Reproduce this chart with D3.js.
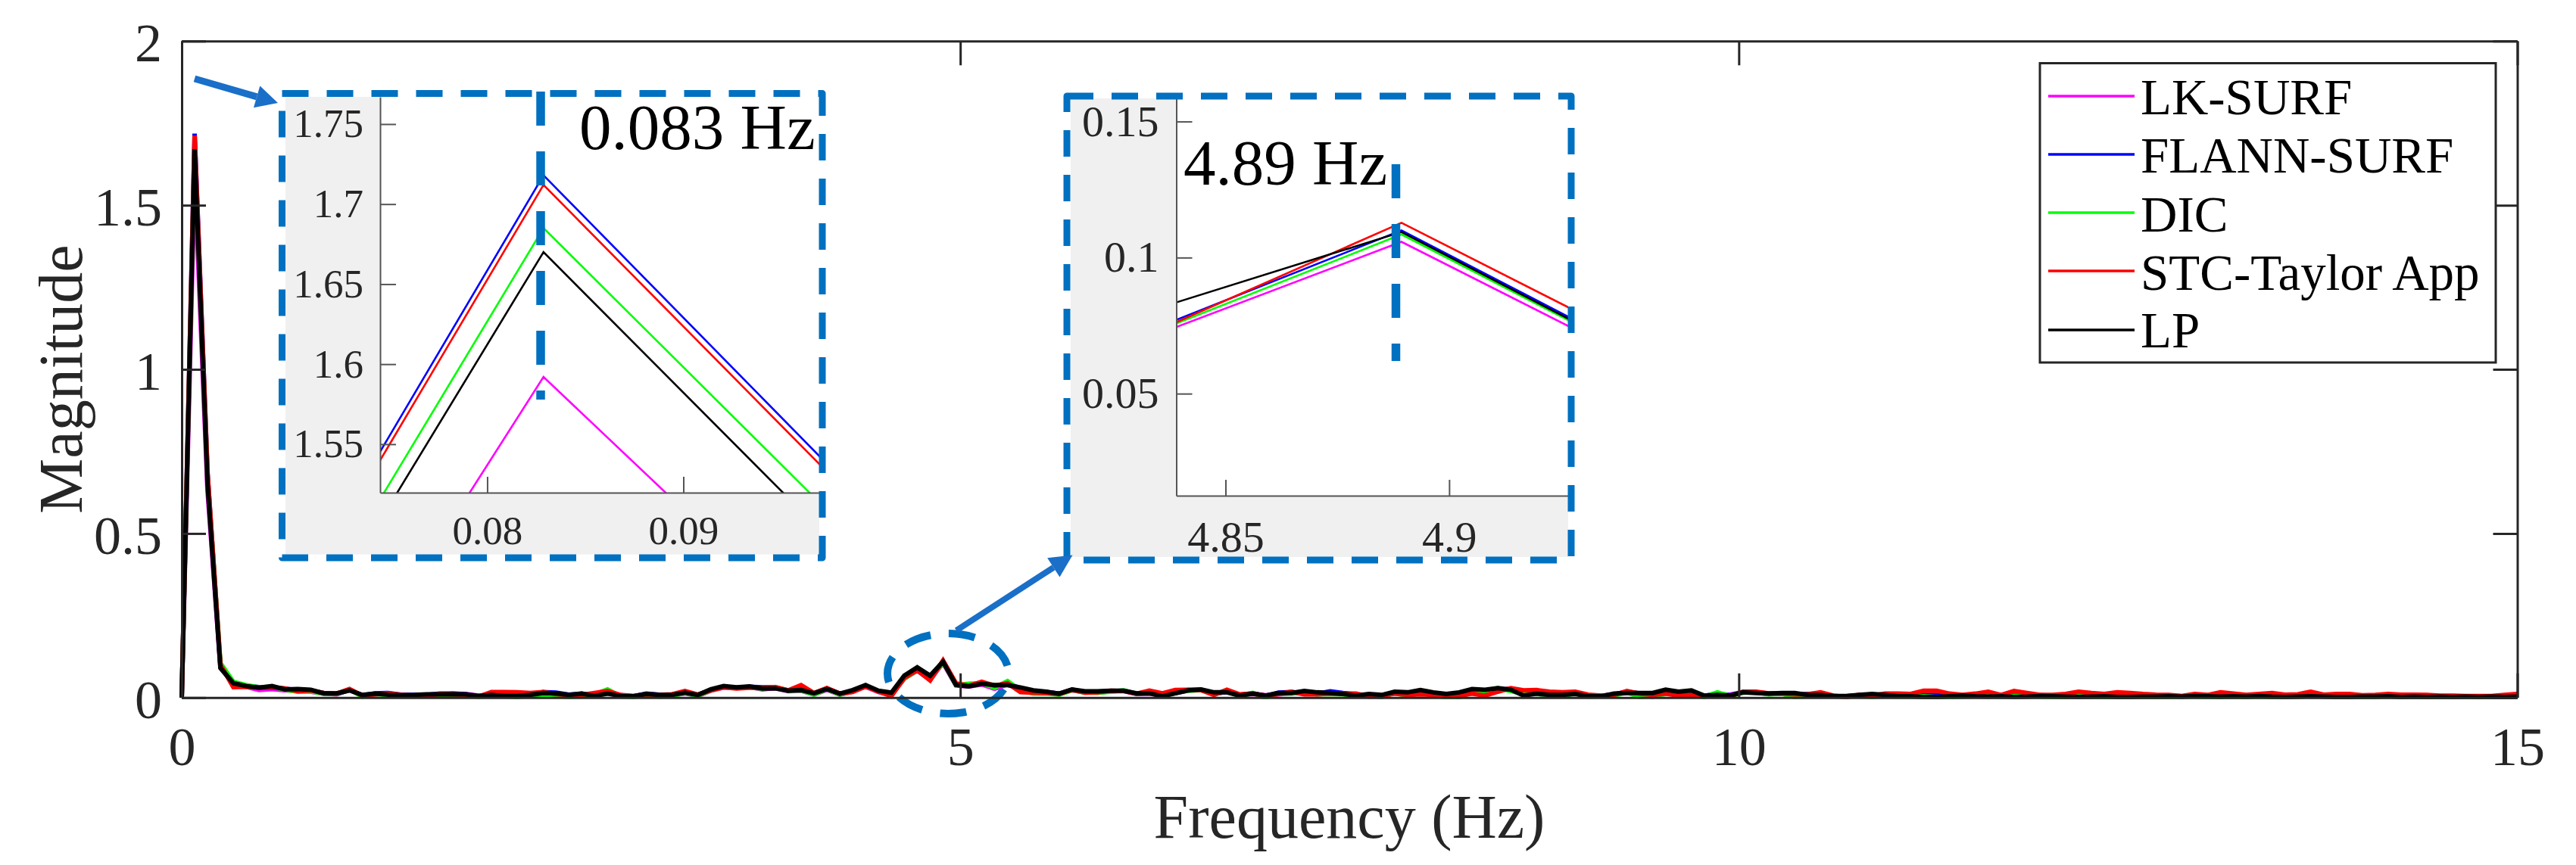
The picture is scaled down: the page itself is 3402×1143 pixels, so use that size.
<!DOCTYPE html>
<html><head><meta charset="utf-8">
<script src="https://cdnjs.cloudflare.com/ajax/libs/d3/7.8.5/d3.min.js"></script>
<style>html,body{margin:0;padding:0;background:#fff;overflow:hidden}svg{display:block}text{font-family:"Liberation Serif",serif}</style>
</head><body>
<script>
const seriesNames = ["LK-SURF","FLANN-SURF","DIC","STC-Taylor App","LP"];
const seriesColors = ["#ff00ff","#0000ff","#00ff00","#ff0000","#000000"];
const frequencyStep = 0.08287;
const xTicks = [0,5,10,15];
const yTicks = [0,0.5,1,1.5,2];
const inset1XTicks = [0.08,0.09];
const inset1YTicks = [1.55,1.6,1.65,1.7,1.75];
const inset2XTicks = [4.85,4.9];
const inset2YTicks = [0.05,0.1,0.15];

const lkSurf = [
0,1.592,.630,.092,.042,.033,.023,.026,.022,.020,
.018,.012,.010,.024,.006,.011,.010,.008,.007,.009,
.009,.012,.011,.006,.009,.006,.004,.007,.016,.012,
.006,.009,.007,.014,.006,.003,.009,.009,.007,.013,
.005,.021,.031,.029,.032,.025,.029,.020,.021,.009,
.024,.009,.018,.033,.017,.008,.058,.082,.0542,.1058,
.037,.034,.040,.027,.040,.024,.017,.016,.012,.022,
.016,.015,.019,.020,.011,.012,.007,.014,.022,.023,
.013,.017,.009,.011,.007,.010,.014,.013,.014,.015,
.013,.009,.008,.005,.014,.012,.019,.013,.009,.008,
.020,.019,.025,.026,.009,.014,.011,.009,.014,.005,
.006,.009,.017,.011,.002,.019,.013,.016,.006,.010,
.009,.017,.016,.011,.012,.004,.009,.010,.004,.003,
.006,.009,.007,.006,.006,.004,.005,.005,.007,.005,
.005,.006,.004,.004,.007,.006,.004,.004,.005,.006,
.004,.005,.005,.005,.006,.004,.006,.005,.004,.005,
.005,.006,.004,.004,.005,.006,.004,.004,.004,.004,
.005,.005,.004,.004,.004,.004,.003,.004,.004,.004,
.004,.005];
const flannSurf = [
0,1.718,.684,.096,.046,.036,.032,.030,.027,.022,
.021,.014,.011,.023,.007,.013,.014,.009,.008,.008,
.012,.012,.010,.004,.012,.009,.003,.009,.017,.015,
.009,.012,.005,.020,.007,.004,.012,.009,.009,.017,
.008,.023,.032,.030,.033,.031,.031,.021,.030,.012,
.028,.012,.020,.036,.019,.012,.060,.084,.0558,.1100,
.0395,.035,.045,.033,.044,.028,.018,.017,.012,.024,
.017,.018,.020,.021,.012,.014,.009,.014,.023,.024,
.011,.018,.008,.013,.005,.015,.017,.012,.012,.019,
.014,.010,.004,.003,.014,.012,.015,.011,.010,.002,
.017,.014,.022,.027,.013,.016,.012,.011,.014,.006,
.005,.010,.018,.013,.006,.018,.010,.013,.005,.012,
.007,.016,.016,.012,.013,.008,.011,.012,.005,.004,
.007,.009,.009,.007,.006,.008,.008,.007,.007,.010,
.005,.008,.006,.006,.007,.006,.004,.005,.007,.007,
.004,.005,.006,.005,.005,.003,.006,.005,.005,.004,
.006,.007,.005,.004,.004,.006,.005,.004,.003,.005,
.005,.006,.004,.005,.003,.004,.003,.004,.004,.003,
.004,.005];
const dic = [
0,1.685,.675,.105,.048,.038,.031,.033,.024,.018,
.019,.012,.011,.025,.003,.011,.008,.006,.005,.004,
.009,.008,.006,.003,.006,.004,.002,.006,.008,.006,
.002,.004,.010,.025,.004,.002,.008,.003,.006,.014,
.006,.022,.032,.030,.031,.027,.032,.021,.022,.009,
.026,.009,.019,.036,.019,.009,.058,.083,.0546,.1085,
.0385,.042,.044,.030,.050,.022,.012,.013,.009,.023,
.015,.015,.018,.022,.012,.019,.009,.017,.021,.023,
.010,.020,.004,.014,.000,.013,.012,.016,.010,.011,
.010,.005,.007,.002,.014,.005,.013,.008,.001,.001,
.015,.020,.029,.020,.011,.011,.009,.006,.012,.003,
.005,.006,.016,.002,.004,.011,.012,.010,.002,.016,
.005,.015,.016,.010,.012,.002,.004,.014,.004,.003,
.006,.002,.005,.003,.003,.004,.002,.001,.003,.004,
.005,.003,.004,.004,.003,.002,.002,.005,.003,.002,
.002,.003,.003,.002,.002,.003,.003,.002,.002,.003,
.002,.003,.002,.002,.003,.005,.004,.002,.003,.002,
.002,.004,.001,.003,.002,.001,.002,.003,.002,.003,
.002,.003];
const stcTaylor = [
0,1.712,.684,.100,.032,.033,.030,.031,.028,.019,
.022,.014,.012,.026,.006,.010,.013,.008,.006,.006,
.011,.010,.009,.003,.017,.017,.016,.014,.017,.011,
.007,.008,.014,.020,.008,.005,.010,.008,.010,.020,
.009,.022,.031,.028,.030,.030,.032,.022,.038,.014,
.029,.012,.017,.034,.018,.005,.060,.084,.0526,.1128,
.0437,.036,.048,.036,.044,.017,.015,.014,.011,.024,
.015,.016,.021,.020,.012,.021,.013,.023,.024,.023,
.008,.024,.010,.012,.006,.011,.018,.010,.010,.013,
.012,.012,.003,.006,.012,.008,.010,.008,.006,.006,
.012,.006,.018,.029,.022,.023,.018,.016,.018,.009,
.006,.008,.020,.012,.008,.012,.006,.009,.005,.006,
.004,.018,.018,.013,.013,.010,.010,.016,.006,.002,
.008,.006,.012,.012,.011,.021,.021,.012,.008,.012,
.018,.008,.020,.014,.008,.008,.011,.018,.014,.011,
.016,.014,.011,.009,.008,.005,.011,.008,.016,.012,
.008,.011,.014,.009,.010,.018,.009,.011,.011,.007,
.008,.011,.009,.009,.008,.006,.006,.005,.005,.005,
.008,.011];
const lp = [
0,1.670,.650,.090,.044,.035,.030,.035,.025,.026,
.024,.013,.013,.022,.008,.012,.009,.007,.008,.010,
.010,.010,.010,.005,.008,.005,.005,.008,.014,.013,
.008,.012,.005,.012,.005,.004,.011,.008,.008,.015,
.008,.025,.035,.031,.034,.028,.028,.021,.023,.013,
.026,.012,.023,.038,.021,.015,.067,.092,.0668,.1094,
.0386,.034,.042,.038,.038,.031,.022,.018,.012,.025,
.019,.019,.021,.021,.013,.013,.004,.013,.022,.025,
.016,.016,.006,.012,.006,.014,.014,.020,.016,.014,
.011,.006,.011,.008,.018,.016,.023,.016,.011,.016,
.026,.024,.029,.024,.006,.012,.008,.008,.011,.004,
.004,.012,.014,.014,.014,.024,.018,.022,.006,.008,
.006,.016,.014,.012,.014,.014,.008,.008,.005,.005,
.008,.011,.008,.004,.004,.002,.002,.004,.006,.004,
.003,.004,.002,.003,.005,.004,.003,.002,.003,.004,
.002,.002,.003,.003,.004,.003,.005,.004,.003,.004,
.003,.005,.003,.002,.003,.004,.003,.002,.002,.003,
.003,.004,.002,.003,.002,.003,.002,.003,.002,.003,
.002,.003];
const allSeries = [lkSurf,flannSurf,dic,stcTaylor,lp];

const W=3402,H=1143, INK="#262626", BLUE="#0070c0", ARROW="#1a6fc8";
const svg=d3.select("body").append("svg").attr("width",W).attr("height",H).attr("viewBox",`0 0 ${W} ${H}`);
svg.append("rect").attr("width",W).attr("height",H).attr("fill","#fff");
const defs=svg.append("defs");

const L=240,R=3324.5,T=54.3,B=921.8;
const x=d3.scaleLinear().domain([0,15]).range([L,R]);
const y=d3.scaleLinear().domain([0,2]).range([B,T]);
const pts=s=>s.map((v,i)=>[i*frequencyStep,v]);

// dashed ellipse lies under the traces
const ellipseRx=80, ellipseRy=53;
svg.append("ellipse").attr("cx",1252).attr("cy",890).attr("rx",ellipseRx).attr("ry",ellipseRy)
  .attr("fill","none").attr("stroke",BLUE).attr("stroke-width",10)
  .attr("stroke-dasharray","35 24").attr("stroke-dashoffset",-22);

// main traces
defs.append("clipPath").attr("id","mainClip").append("rect").attr("x",L-3).attr("y",T).attr("width",R-L+4).attr("height",B-T+2);
const mainLine=d3.line().x(d=>x(d[0])).y(d=>y(d[1]));
const gMain=svg.append("g").attr("clip-path","url(#mainClip)");
allSeries.forEach((s,i)=>gMain.append("path").attr("d",mainLine(pts(s))).attr("fill","none")
  .attr("stroke",seriesColors[i]).attr("stroke-width",6).attr("stroke-linejoin","miter"));

// main axes
function styleAxis(g,fs){
  g.select(".domain").attr("stroke",INK).attr("stroke-width",3);
  g.selectAll(".tick line").attr("stroke",INK).attr("stroke-width",3);
  g.selectAll(".tick text").attr("fill",INK).attr("font-size",fs).attr("font-family","Liberation Serif");
}
const gx=svg.append("g").attr("transform",`translate(0,${B})`)
  .call(d3.axisBottom(x).tickValues(xTicks).tickFormat(d3.format("d")).tickSizeInner(-32).tickSizeOuter(0).tickPadding(38));
styleAxis(gx,72);
const gy=svg.append("g").attr("transform",`translate(${L},0)`)
  .call(d3.axisLeft(y).tickValues(yTicks).tickFormat(d=>String(d)).tickSizeInner(-32).tickSizeOuter(0).tickPadding(26));
styleAxis(gy,72); gy.selectAll(".tick text").attr("dy","0.37em");
const gxt=svg.append("g").attr("transform",`translate(0,${T})`)
  .call(d3.axisTop(x).tickValues(xTicks).tickFormat("").tickSizeInner(-32).tickSizeOuter(0));
styleAxis(gxt,0);
const gyr=svg.append("g").attr("transform",`translate(${R},0)`)
  .call(d3.axisRight(y).tickValues(yTicks).tickFormat("").tickSizeInner(-32).tickSizeOuter(0));
styleAxis(gyr,0);

svg.append("text").attr("x",1782).attr("y",1107).attr("text-anchor","middle").attr("font-size",82).attr("fill",INK).text("Frequency (Hz)");
svg.append("text").attr("transform","translate(108,501) rotate(-90)").attr("text-anchor","middle").attr("font-size",82).attr("fill",INK).text("Magnitude");

// insets
function inset(c){
  svg.append("rect").attr("x",c.gx0).attr("y",c.gy0).attr("width",c.gx1-c.gx0).attr("height",c.gy1-c.gy0).attr("fill","#f0f0f0");
  svg.append("rect").attr("x",c.px0).attr("y",c.gy0).attr("width",c.gx1-c.px0).attr("height",c.py1-c.gy0).attr("fill","#fff");
  const ix=d3.scaleLinear().domain(c.xd).range([c.px0,c.gx1]);
  const iy=d3.scaleLinear().domain(c.yd).range([c.py1,c.gy0]);
  defs.append("clipPath").attr("id",c.id).append("rect").attr("x",c.px0).attr("y",c.gy0).attr("width",c.gx1-c.px0).attr("height",c.py1-c.gy0);
  const g=svg.append("g").attr("clip-path",`url(#${c.id})`);
  const ln=d3.line().x(d=>ix(d[0])).y(d=>iy(d[1]));
  allSeries.forEach((s,i)=>g.append("path").attr("d",ln(pts(s))).attr("fill","none").attr("stroke",seriesColors[i]).attr("stroke-width",2.6));
  const ax=svg.append("g").attr("transform",`translate(0,${c.py1})`)
    .call(d3.axisBottom(ix).tickValues(c.xt).tickFormat(d=>String(d)).tickSizeInner(-21).tickSizeOuter(0).tickPadding(c.xpad));
  const ay=svg.append("g").attr("transform",`translate(${c.px0},0)`)
    .call(d3.axisLeft(iy).tickValues(c.yt).tickFormat(d=>String(d)).tickSizeInner(-21).tickSizeOuter(0).tickPadding(c.ypad));
  [ax,ay].forEach(a=>{a.select(".domain").attr("stroke","#555").attr("stroke-width",2);
    a.selectAll(".tick line").attr("stroke","#555").attr("stroke-width",2);
    a.selectAll(".tick text").attr("fill",INK).attr("font-size",c.fs).attr("font-family","Liberation Serif");});
  svg.append("line").attr("x1",c.mx).attr("x2",c.mx).attr("y1",c.my0).attr("y2",c.my1).attr("stroke",BLUE).attr("stroke-width",11.5).attr("stroke-dasharray","45 34");
  svg.append("path").attr("d",`M${c.fx0},${c.fy0}H${c.fx1}V${c.fy1}H${c.fx0}Z`).attr("fill","none").attr("stroke",BLUE).attr("stroke-width",9)
    .attr("stroke-dasharray","35 24").attr("stroke-linejoin","round");
  svg.append("text").attr("x",c.tx).attr("y",c.ty).attr("font-size",85).attr("fill","#000").text(c.label);
}
inset({id:"c1",gx0:377,gx1:1082,gy0:128,gy1:732.6,px0:502,py1:651,xd:[0.07454,0.09693],yd:[1.5197,1.767],
  xt:inset1XTicks,yt:inset1YTicks,xpad:30,ypad:22,fs:53,mx:714,my0:121,my1:528,fx0:372.5,fx1:1086,fy0:123.5,fy1:737,tx:765,ty:196.5,label:"0.083 Hz"});
inset({id:"c2",gx0:1414,gx1:2071,gy0:130,gy1:736,px0:1553.5,py1:655,xd:[4.839,4.9266],yd:[0.0125,0.1585],
  xt:inset2XTicks,yt:inset2YTicks,xpad:33,ypad:23,fs:58,mx:1843.5,my0:217,my1:477,fx0:1409,fx1:2075,fy0:127,fy1:740,tx:1563,ty:244,label:"4.89 Hz"});

// arrows
function arrow(x0,y0,x1,y1,len,hw,w){
  const dx=x1-x0,dy=y1-y0,n=Math.hypot(dx,dy),ux=dx/n,uy=dy/n,bx=x1-ux*len,by=y1-uy*len;
  svg.append("line").attr("x1",x0).attr("y1",y0).attr("x2",bx).attr("y2",by).attr("stroke",ARROW).attr("stroke-width",w);
  svg.append("path").attr("d",`M${x1},${y1}L${bx-uy*hw},${by+ux*hw}L${bx+uy*hw},${by-ux*hw}Z`).attr("fill",ARROW);
}
arrow(257,104,367,136,29,15,9);
arrow(1263,833,1416.5,733.5,30,15,8);

// legend
svg.append("rect").attr("x",2694).attr("y",83.5).attr("width",602).attr("height",395.5).attr("fill","#fff").attr("stroke",INK).attr("stroke-width",3);
const legendY=[127,204,281,358,436], legendBase=[151,228,306,383,459];
seriesNames.forEach((n,i)=>{
  svg.append("line").attr("x1",2705).attr("x2",2819).attr("y1",legendY[i]).attr("y2",legendY[i]).attr("stroke",seriesColors[i]).attr("stroke-width",3.5);
  svg.append("text").attr("x",2827).attr("y",legendBase[i]).attr("font-size",67).attr("fill","#000").text(n);
});
</script>
</body></html>
